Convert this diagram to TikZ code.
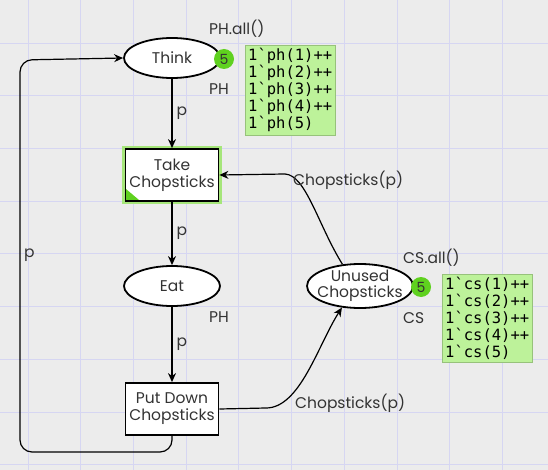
\documentclass[tikz,border=0pt]{standalone}
\usepackage{fontspec}
\setmainfont{Poppins}
\newfontfamily\tokfont{DejaVu Sans Mono}
\usetikzlibrary{arrows.meta,shapes.geometric}
\definecolor{bg}{HTML}{ECECEC}
\definecolor{gridc}{HTML}{D6D6F2}
\definecolor{tokfill}{HTML}{BDF29A}
\definecolor{tokcirc}{HTML}{5FD11F}
\definecolor{glow}{HTML}{A6E67A}
\definecolor{txt}{HTML}{333333}
\tikzset{
  place/.style={draw,line width=1.8pt,ellipse,fill=white,minimum width=96pt,minimum height=40pt,inner sep=0pt,font=\fontsize{15.5}{16}\selectfont,align=center,text=txt},
  trans/.style={draw,line width=1.8pt,rectangle,fill=white,minimum width=93pt,minimum height=52pt,inner sep=0pt,font=\fontsize{15.5}{17}\selectfont,align=center,text=txt},
  arc/.style={line width=1.2pt,-{Stealth[length=9pt,width=8pt]}},
  lbl/.style={font=\fontsize{15.5}{16}\selectfont,inner sep=0pt,text=txt},
  tok/.style={circle,fill=tokcirc,minimum size=20pt,inner sep=0pt,font=\fontsize{14}{14}\selectfont,text=txt},
  tokbox/.style={fill=tokfill,draw=tokfill!80!black,line width=0.4pt,inner xsep=3pt,inner ysep=3pt,align=left,font=\tokfont\fontsize{15.5}{17}\selectfont,anchor=north west}
}
\newcommand{\bq}{\symbol{96}}
\begin{document}
\begin{tikzpicture}[x=1pt,y=-1pt]
\fill[bg] (0,0) rectangle (548,470);
\useasboundingbox (0,0) rectangle (548,470);
\foreach \i in {0,...,9} \draw[gridc,line width=0.8pt] ({28+52.7*\i},0) -- ({28+52.7*\i},470);
\foreach \i in {0,...,8} \draw[gridc,line width=0.8pt] (0,{43+52.7*\i}) -- (548,{43+52.7*\i});

% places
\node[place] (think) at (172,58) {Think};
\node[place] (eat) at (172,286) {Eat};
\node[place,minimum width=106pt,minimum height=44pt,
  label={[lbl,align=center,font=\fontsize{15.5}{16}\selectfont]center:Unused\\Chopsticks}] (unused) at (360,286) {};

% transitions
\fill[glow] (122,146) rectangle (222,204);
\node[trans] (take) at (172,175) {Take\\Chopsticks};
\fill[tokcirc] (126,189) -- (126,200) -- (139,200) -- cycle;
\node[trans] (put) at (172,409) {Put Down\\Chopsticks};

% tokens
\node[tok] (t1) at (224,59) {5};
\node[lbl,anchor=west] (init1) at (209,29) {PH.all()};
\node[lbl,anchor=west] (type1) at (209,89) {PH};
\node[tokbox] (m1) at (245,45) {1\bq ph(1)++\\1\bq ph(2)++\\1\bq ph(3)++\\1\bq ph(4)++\\1\bq ph(5)};

\node[tok] (t2) at (421,287) {5};
\node[lbl,anchor=west] (init2) at (403,258) {CS.all()};
\node[lbl,anchor=west] (type2) at (403,318) {CS};
\node[tokbox] (m2) at (442,274) {1\bq cs(1)++\\1\bq cs(2)++\\1\bq cs(3)++\\1\bq cs(4)++\\1\bq cs(5)};

\node[lbl,anchor=west] (ph2) at (209,317) {PH};

% arcs
\draw[arc] (think) -- node[lbl,anchor=west,xshift=4pt] {p} (take);
\draw[arc] (take) -- node[lbl,anchor=west,xshift=4pt] {p} (eat);
\draw[arc] (eat) -- node[lbl,anchor=west,xshift=4pt] {p} (put);
\coordinate (c1) at (20,452);
\coordinate (c2) at (20,60);
\draw[arc,rounded corners=12pt] (put.south) -- (172,452) -- (c1) -- (c2) -- (think.west);
\node[lbl,anchor=west] at (24,255) {p};
\draw[arc] (put.east) -- (266,408) .. controls (300,408) and (318,345) .. (unused.230);
\node[lbl,anchor=west] at (295,403) {Chopsticks(p)};
\draw[arc] (unused.129) .. controls (318,225) and (306,175) .. (285,174) -- (take.east);
\node[lbl,anchor=west] at (293,180) {Chopsticks(p)};
\end{tikzpicture}
\end{document}
